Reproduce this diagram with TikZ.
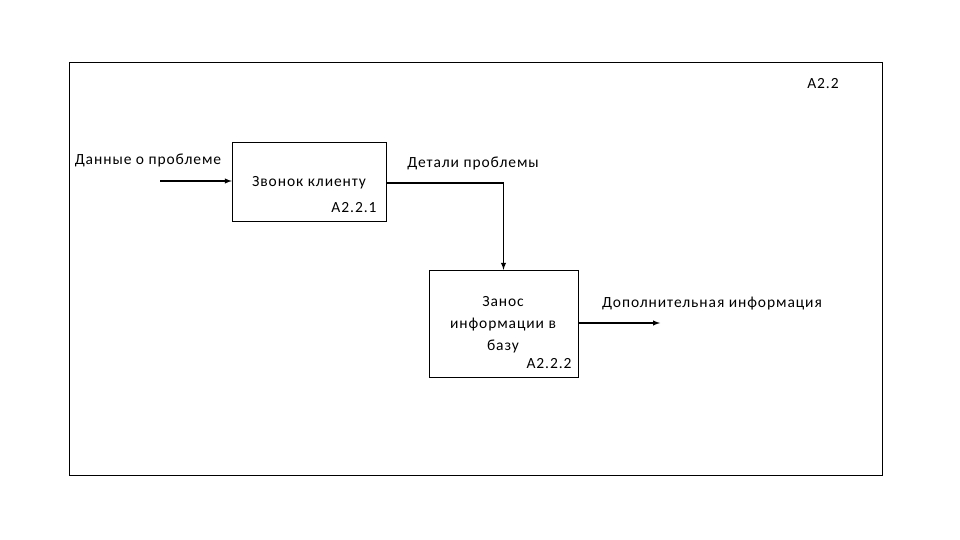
\documentclass[tikz,border=0pt]{standalone}
\usepackage{fontspec}
\setmainfont{Carlito}[LetterSpace=6]
\begin{document}
\begin{tikzpicture}[x=1pt,y=-1pt,font=\fontsize{15.5}{17}\selectfont,
 box/.style={draw,thin,inner sep=0},
 lbl/.style={inner sep=0,anchor=center},
 arr/.style={-latex,line width=1.4pt}]
\useasboundingbox (0,0) rectangle (960,540);
\draw[thin] (69,62) rectangle (882,475);
\node[lbl] (t0) at (823,84) {A2.2};
\node[box,minimum width=154,minimum height=79] (b1) at (309,181.5) {};
\node[box,minimum width=149,minimum height=107] (b2) at (503.5,323.5) {};
\node[lbl] (l1) at (309,183) {Звонок клиенту};
\node[lbl] (n1) at (354,208) {A2.2.1};
\node[lbl] (z1) at (503,302) {Занос};
\node[lbl] (z2) at (503,325) {информации в};
\node[lbl] (z3) at (503,346) {базу};
\node[lbl] (n2) at (549,364) {A2.2.2};
\node[lbl] (in) at (148,160) {Данные о проблеме};
\node[lbl] (d) at (473,163) {Детали проблемы};
\node[lbl] (o) at (712,304) {Дополнительная информация};
\coordinate (s) at (160,181);
\coordinate (e) at (660,323);
\draw[arr] (s) -- (b1.west |- s);
\draw[arr] (b1.east |- 0,183) -| (b2.north);
\draw[arr] (b2.east |- e) -- (e);
\end{tikzpicture}
\end{document}
